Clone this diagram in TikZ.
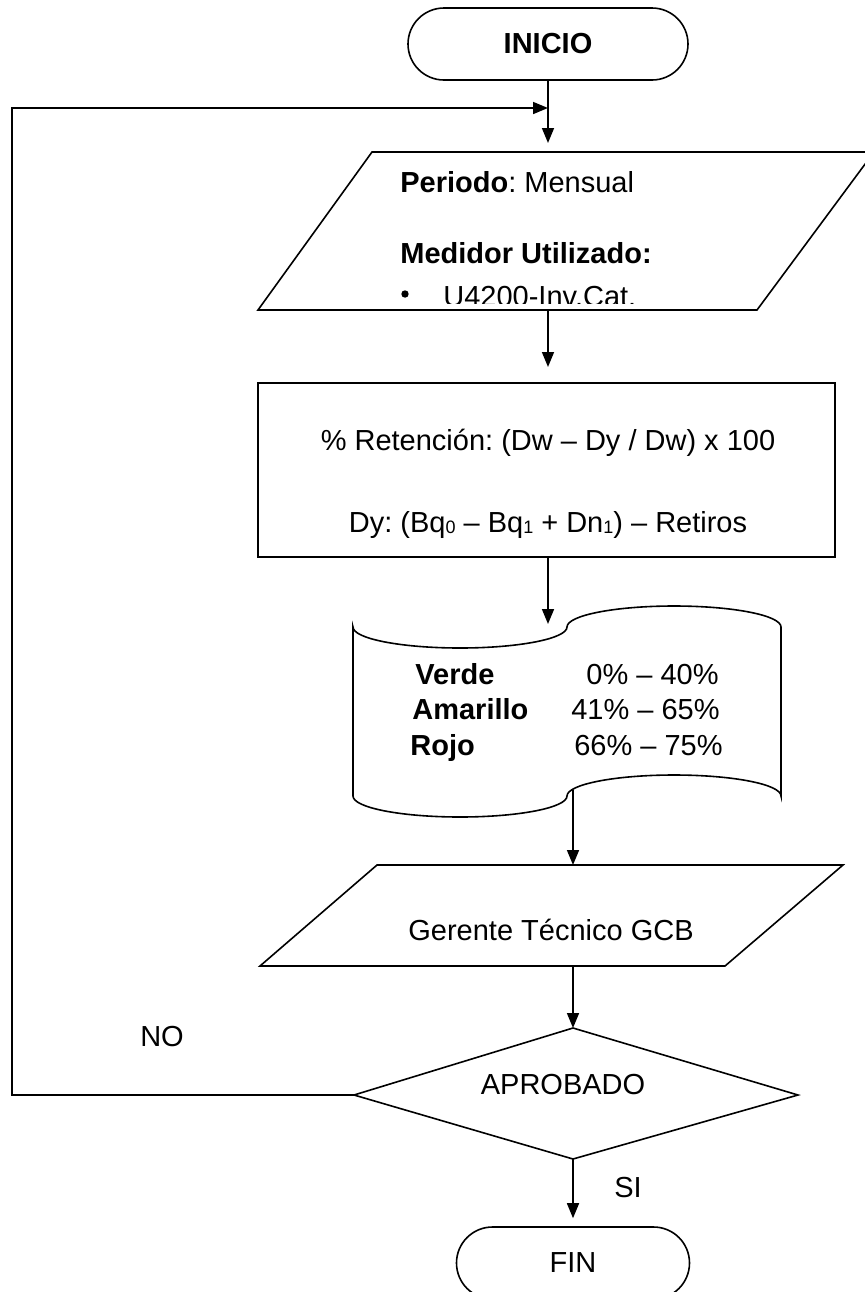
\documentclass[tikz,border=0pt]{standalone}
\usepackage{fontspec}
\setmainfont{Liberation Sans}
\usetikzlibrary{arrows.meta}
\frenchspacing
% small lowered index digits in the formula
\newcommand{\idx}[1]{\raisebox{-0.6pt}{\fontsize{9}{9}\selectfont #1}}
\begin{document}
\begin{tikzpicture}[x=0.5pt,y=-0.5pt,
  shape line/.style={draw=black, line width=0.8pt},
  conn/.style={draw=black, line width=0.8pt, -{Triangle[length=7.5pt,width=6pt]}},
  txt/.style={inner sep=0pt, font=\fontsize{14.5}{17}\selectfont},
  terminal/.style={shape line, rounded corners=18pt, minimum height=36pt, inner sep=0pt, font=\fontsize{14.5}{17}\selectfont}]
\useasboundingbox (0,0) rectangle (865,1292);

% start / end terminals
\node[terminal, minimum width=140pt] (inicio) at (548,44) {\bfseries INICIO};
\node[terminal, minimum width=116.5pt] (fin) at (573,1263) {FIN};

% input: period and meter
\draw[shape line] (372,152) -- (874,152) -- (757,310) -- (258,310) -- cycle;
\coordinate (p1n) at (548,152);
\coordinate (p1s) at (548,310);
\node[txt, anchor=base west] (periodo) at (400,192) {\textbf{Periodo}: Mensual};
\node[txt, anchor=base west] (medidor) at (400,263) {\textbf{Medidor Utilizado:}};
\fill (405,294) circle[radius=1.85pt];
\begin{scope}
  \clip (380,270) rectangle (760,303.5);
  \node[txt, anchor=base west] (medval) at (443,306) {U4200-Inv.Cat.};
\end{scope}

% process: retention formula
\draw[shape line] (258,383) rectangle (835,557);
\coordinate (rn) at (548,383);
\coordinate (rs) at (548,557);
\node[txt, anchor=base] (ret) at (548,450) {\% Retención: (Dw -- Dy / Dw) x 100};
\node[txt, anchor=base] (dy) at (548,532) {Dy: (Bq\idx{0} -- Bq\idx{1} + Dn\idx{1}) -- Retiros};

% punched tape: colour ranges
\draw[shape line] (353,627)
  arc[start angle=180, end angle=360, x radius=53.5pt, y radius=10.5pt]
  arc[start angle=180, end angle=0, x radius=53.5pt, y radius=10.5pt]
  -- (781,796)
  arc[start angle=0, end angle=180, x radius=53.5pt, y radius=10.5pt]
  arc[start angle=0, end angle=-180, x radius=53.5pt, y radius=10.5pt]
  -- cycle;
\coordinate (tn) at (548,633);
\coordinate (ts) at (573,790);
\node[txt, anchor=base west] (verde) at (415,684) {\bfseries Verde};
\node[txt, anchor=base east] (verdev) at (719,684) {0\% -- 40\%};
\node[txt, anchor=base west] (amarillo) at (412,719) {\bfseries Amarillo};
\node[txt, anchor=base east] (amarillov) at (720,719) {41\% -- 65\%};
\node[txt, anchor=base west] (rojo) at (410,755) {\bfseries Rojo};
\node[txt, anchor=base east] (rojov) at (723,755) {66\% -- 75\%};

% output: technical manager
\draw[shape line] (377,865) -- (843,865) -- (725,966) -- (260,966) -- cycle;
\coordinate (gn) at (573,865);
\coordinate (gs) at (573,966);
\node[txt, anchor=base] (gerente) at (551,940) {Gerente Técnico GCB};

% decision
\draw[shape line] (573,1028) -- (798,1095) -- (573,1159) -- (354,1095) -- cycle;
\coordinate (dt) at (573,1028);
\coordinate (db) at (573,1159);
\coordinate (dl) at (354,1095);
\node[txt, anchor=base] (aprob) at (563,1094) {APROBADO};
\node[txt, anchor=base] (no) at (162,1046) {NO};
\node[txt, anchor=base] (si) at (628,1197) {SI};

% loop-back path
\coordinate (lb) at (12,1095);
\coordinate (lt) at (12,108);
\coordinate (merge) at (548,108);

% connectors
\draw[conn, shorten >=4.5pt] (inicio.south) -- (p1n);
\draw[conn] (dl) -- (lb) -- (lt) -- (merge);
\draw[conn, shorten >=8pt] (p1s) -- (rn);
\draw[conn, shorten >=4.5pt] (rs) -- (tn);
\draw[conn] (ts) -- (gn);
\draw[conn] (gs) -- (dt);
\draw[conn, shorten >=4pt] (db) -- (fin.north);
\end{tikzpicture}
\end{document}
